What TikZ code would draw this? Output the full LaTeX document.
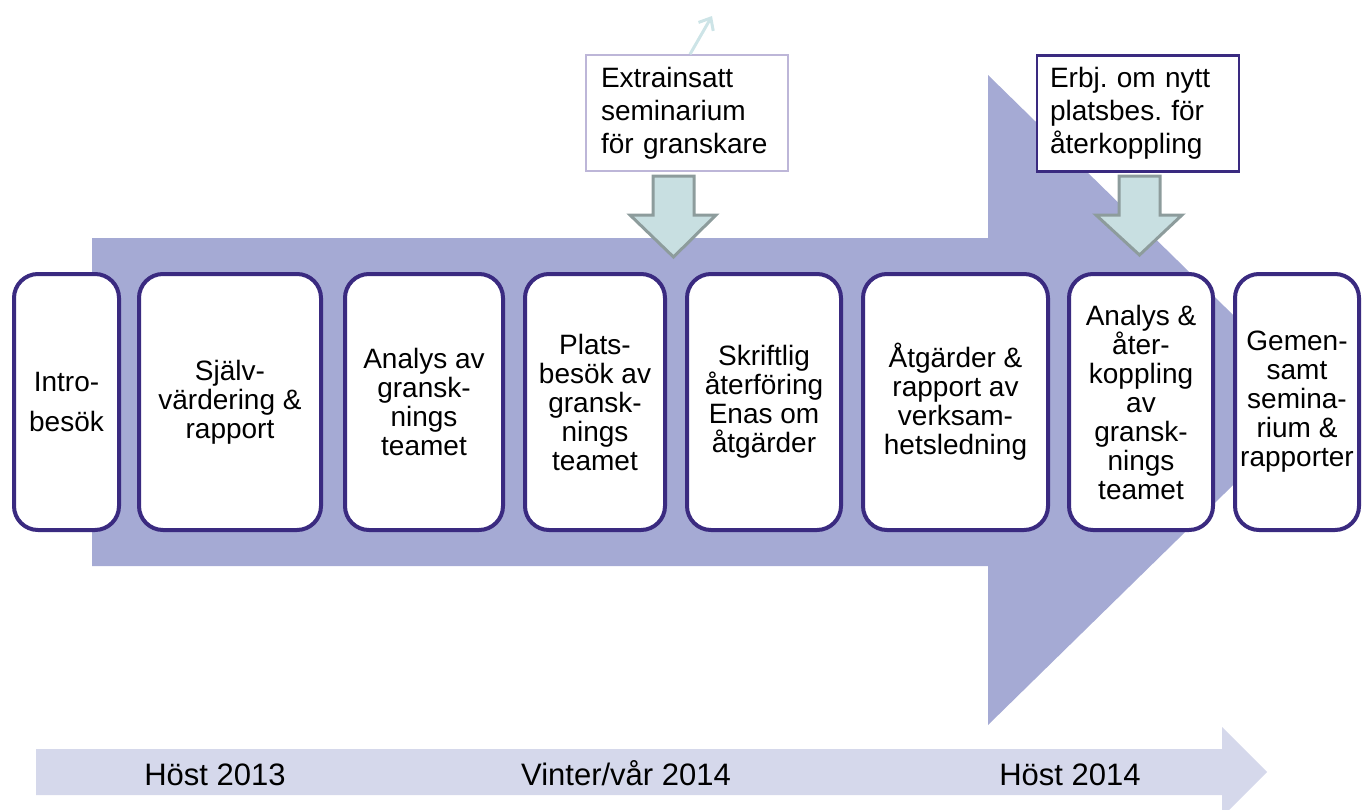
\documentclass[tikz,border=0pt]{standalone}
\usepackage{fontspec}
\setmainfont{Liberation Sans}
\usetikzlibrary{arrows.meta}
\definecolor{bigarrow}{HTML}{A5AAD4}
\definecolor{timeband}{HTML}{D5D8EB}
\definecolor{boxline}{HTML}{3A2A80}
\definecolor{lightline}{HTML}{BDB6D8}
\definecolor{downfill}{HTML}{C8DFE1}
\definecolor{downline}{HTML}{8D9C9C}
\definecolor{tinyarrow}{HTML}{CDE4E7}
\frenchspacing
\begin{document}
\begin{tikzpicture}[x=1pt,y=-1pt,
  stagebox/.style={draw=boxline, line width=4pt, fill=white, rounded corners=24pt,
    inner sep=0pt, minimum height=256pt, align=center,
    font=\fontsize{28}{29}\selectfont},
  notebox/.style={fill=white, inner xsep=14pt, inner ysep=0pt, text width=175pt,
    minimum height=116pt, align=left, font=\fontsize{28}{33}\selectfont},
  downarrow/.style={fill=downfill, draw=downline, line width=3pt, line join=miter},
  timelabel/.style={anchor=base, inner sep=0pt, font=\fontsize{31}{36}\selectfont}
]
\useasboundingbox (0,0) rectangle (1362,809);

% big background arrow
\fill[bigarrow] (92,238) -- (988,238) -- (988,75) -- (1320,400) -- (988,725)
  -- (988,566) -- (92,566) -- cycle;

% time band arrow
\fill[timeband] (36,749) -- (1222,749) -- (1222,727) -- (1267,772) -- (1222,817)
  -- (1222,795) -- (36,795) -- cycle;
\node[timelabel] (t1) at (215,785) {Höst 2013};
\node[timelabel] (t2) at (626,785) {Vinter/vår 2014};
\node[timelabel] (t3) at (1070,785) {Höst 2014};

% stage boxes
\node[stagebox, minimum width=105pt, font=\fontsize{28}{40}\selectfont] (s1) at (66.5,402) {Intro-\\besök};
\node[stagebox, minimum width=182pt] (s2) at (230,402) {Själv-\\värdering \&\\rapport};
\node[stagebox, minimum width=158pt] (s3) at (424,402) {Analys av\\gransk-\\nings\\teamet};
\node[stagebox, minimum width=140pt] (s4) at (595,402) {Plats-\\besök av\\gransk-\\nings\\teamet};
\node[stagebox, minimum width=154pt] (s5) at (764,402) {Skriftlig\\återföring\\Enas om\\åtgärder};
\node[stagebox, minimum width=185pt] (s6) at (955.5,402) {Åtgärder \&\\rapport av\\verksam-\\hetsledning};
\node[stagebox, minimum width=144pt] (s7) at (1141,402) {Analys \&\\åter-\\koppling\\av\\gransk-\\nings\\teamet};
\node[stagebox, minimum width=124pt] (s8) at (1297,402) {Gemen-\\samt\\semina-\\rium \&\\rapporter};

% note boxes
\node[notebox, draw=lightline, line width=1.5pt, inner xsep=15pt, text width=172pt] (extra) at (687,113) {Extrainsatt\\seminarium\\för granskare};
\node[notebox, draw=boxline, line width=2.5pt, inner xsep=13pt, text width=176pt] (erbj) at (1138,113.5) {Erbj. om nytt\\platsbes. för\\återkoppling};

% faint arrow leaving the extra box
\coordinate (tinyend) at (712,16);
\draw[tinyarrow, line width=3pt, -{Straight Barb[length=10pt,width=17pt]}] ([xshift=3pt]extra.north) -- (tinyend);

% block arrows from note boxes down to the stages
\draw[downarrow] (653,176) -- (694,176) -- (694,215) -- (716,215) -- (673.5,257)
  -- (630,215) -- (653,215) -- cycle;
\draw[downarrow] (1119,176) -- (1160,176) -- (1160,215) -- (1182,215) -- (1139.5,255)
  -- (1096,215) -- (1119,215) -- cycle;
\end{tikzpicture}
\end{document}
